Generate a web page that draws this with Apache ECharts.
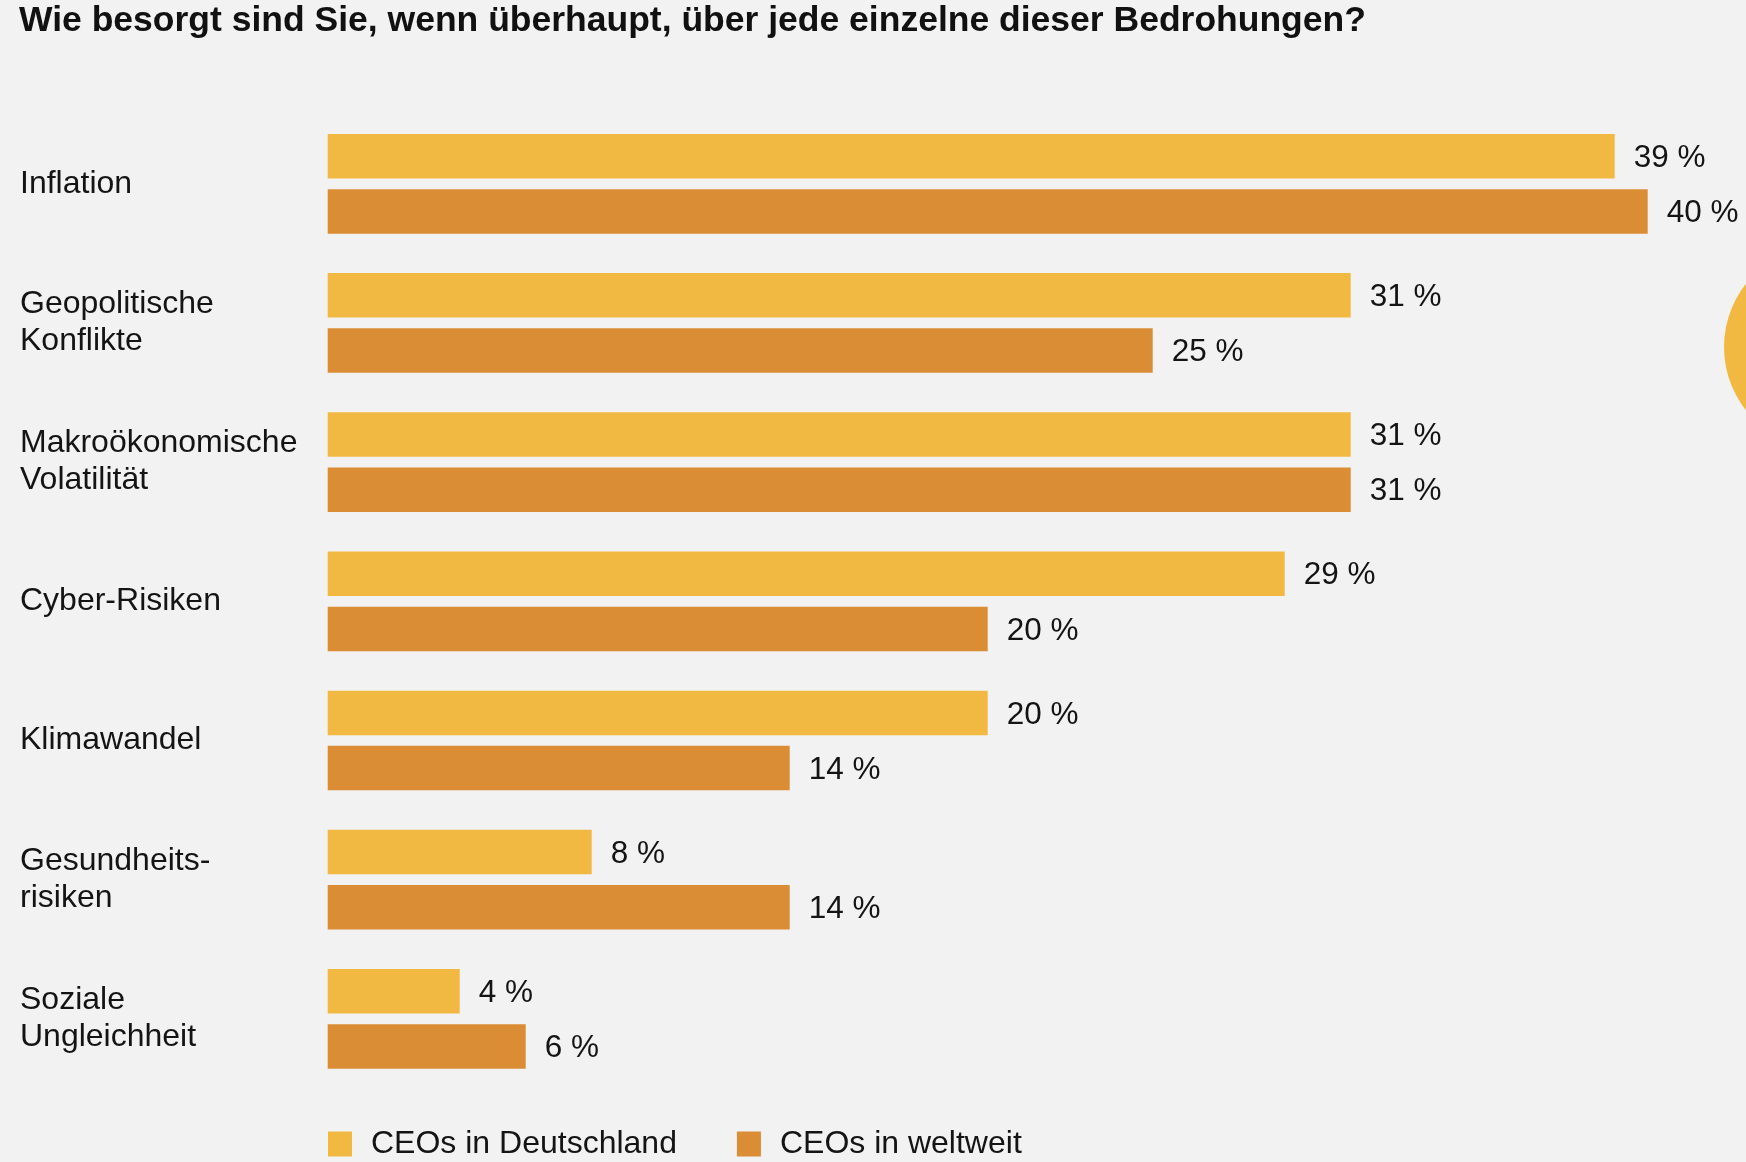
<!DOCTYPE html>
<html>
<head>
<meta charset="utf-8">
<script src="https://cdn.jsdelivr.net/npm/echarts@6/dist/echarts.min.js"></script>
<style>
html,body{margin:0;padding:0;background:#f2f2f2;}
#c{width:1746px;height:1162px;}
</style>
</head>
<body>
<div id="c"></div>
<script>
const titleText = 'Wie besorgt sind Sie, wenn überhaupt, über jede einzelne dieser Bedrohungen?';
const categories = [
  'Inflation',
  'Geopolitische\nKonflikte',
  'Makroökonomische\nVolatilität',
  'Cyber-Risiken',
  'Klimawandel',
  'Gesundheits-\nrisiken',
  'Soziale\nUngleichheit'
];
const seriesNames = ['CEOs in Deutschland', 'CEOs in weltweit'];
const deutschland = [39, 31, 31, 29, 20, 8, 4];
const weltweit = [40, 25, 31, 20, 14, 14, 6];

const FONT = '"Liberation Sans", Arial, Helvetica, sans-serif';
const chart = echarts.init(document.getElementById('c'), null, {renderer: 'canvas'});
const labelCfg = {
  show: true,
  position: 'right',
  distance: 19,
  offset: [0, 2],
  formatter: '{c} %',
  color: '#141414',
  fontSize: 31.5,
  fontFamily: FONT
};
chart.setOption({
  backgroundColor: '#f2f2f2',
  animation: false,
  title: {
    text: titleText,
    left: 19,
    top: 3,
    padding: 0,
    textStyle: {fontSize: 35.5, fontWeight: 'bold', color: '#111', fontFamily: FONT}
  },
  legend: {
    left: 328,
    top: 1128,
    padding: 0,
    itemWidth: 24,
    itemHeight: 25,
    itemGap: 60,
    icon: 'rect',
    textStyle: {fontSize: 32, color: '#141414', fontFamily: FONT, padding: [0, 0, 0, 14]},
    data: seriesNames
  },
  grid: {left: 327.7, right: 98.3, top: 114.2, bottom: 73.6, containLabel: false},
  xAxis: {
    type: 'value', min: 0, max: 40, show: false
  },
  yAxis: {
    type: 'category',
    data: categories,
    inverse: true,
    axisLine: {show: false},
    axisTick: {show: false},
    splitLine: {show: false},
    axisLabel: {
      align: 'left',
      margin: 307.7,
      fontSize: 32,
      lineHeight: 37,
      padding: [8, 0, 0, 0],
      color: '#141414',
      fontFamily: FONT
    }
  },
  series: [
    {
      name: seriesNames[0], type: 'bar', data: deutschland,
      barWidth: 44.5, barGap: '24%',
      itemStyle: {color: '#f2b942'},
      label: labelCfg
    },
    {
      name: seriesNames[1], type: 'bar', data: weltweit,
      barWidth: 44.5, barGap: '24%',
      itemStyle: {color: '#da8d34'},
      label: labelCfg
    }
  ],
  graphic: [
    {type: 'circle', shape: {cx: 1826, cy: 347, r: 102}, style: {fill: '#f2b942'}, silent: true}
  ]
});
</script>
</body>
</html>
